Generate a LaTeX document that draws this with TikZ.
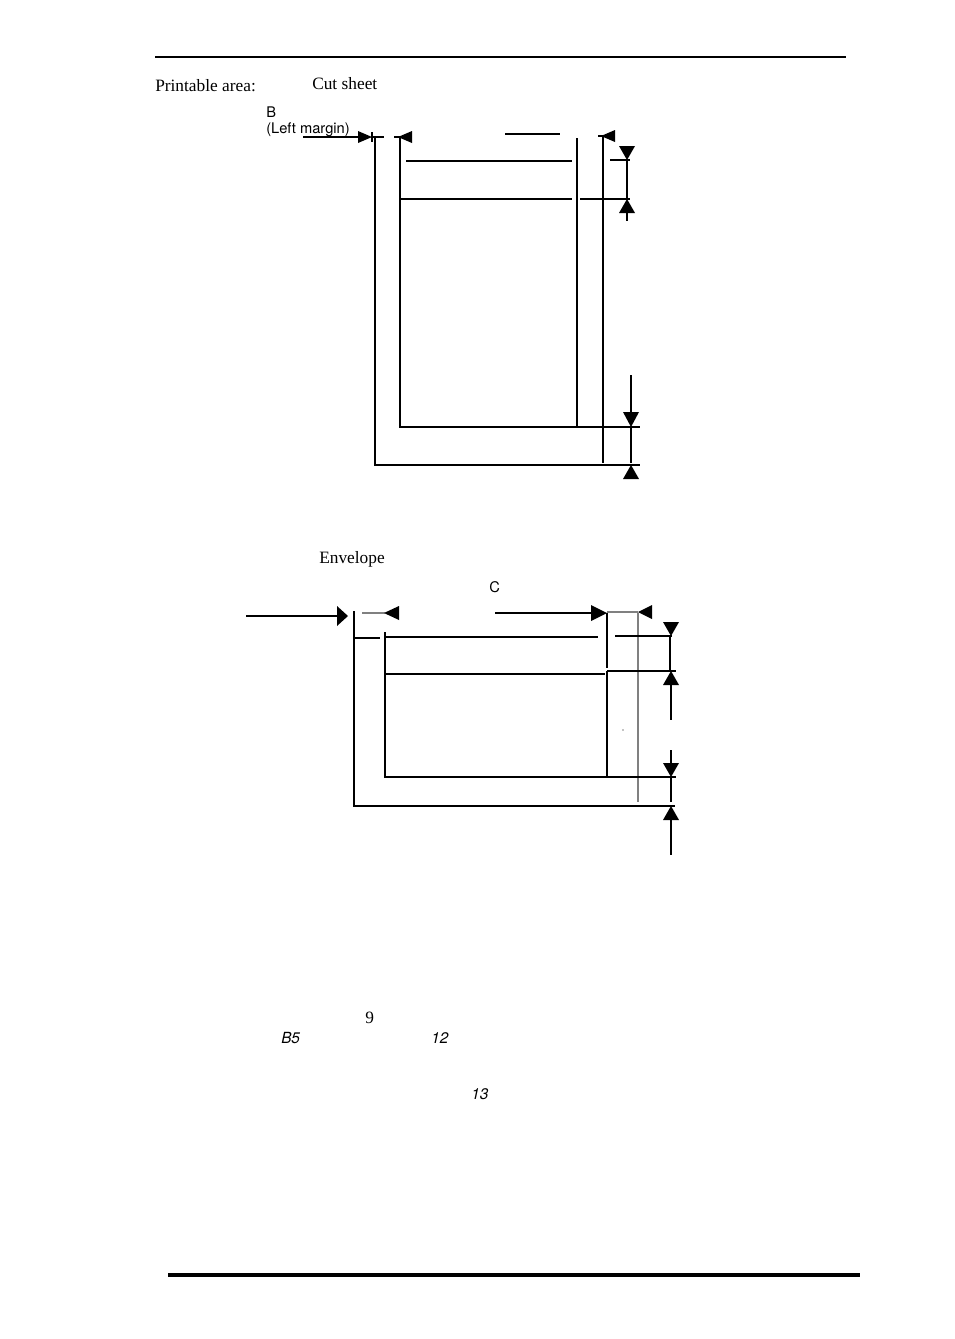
\documentclass[tikz,border=0pt]{standalone}
\usepackage{fontspec}
\setmainfont{Liberation Serif}
\newfontfamily\hel{TeX Gyre Heros}
\begin{document}
\begin{tikzpicture}[x=0.75pt,y=-0.75pt,
  thin/.style={line width=0.8pt},
  thk/.style={line width=1.6pt},
  gr/.style={line width=0.8pt,gray},
  lbl/.style={inner sep=0pt,anchor=west,font=\fontsize{13}{14}\selectfont},
  slbl/.style={inner sep=0pt,anchor=west,font=\hel\fontsize{11}{12}\selectfont},
  ilbl/.style={inner sep=0pt,anchor=west,font=\hel\itshape\fontsize{11.5}{12}\selectfont}]
\useasboundingbox (0,0) rectangle (954,1339);
% rules
\draw[line width=1.5pt] (155,57) -- (846,57);
\draw[line width=2.3pt] (168,1275) -- (860,1275);
% texts
\node[lbl] (pa) at (155,86) {Printable area:};
\node[lbl] (cs) at (312,84) {Cut sheet};
\node[slbl] (b) at (266,112) {B};
\node[slbl] (lm) at (266,130) {(Left margin)};
\node[lbl] (env) at (319,559) {Envelope};
\node[slbl,font=\hel\fontsize{11}{12}\selectfont] (c) at (489,587) {C};
\node[lbl] (n9) at (365,1018) {9};
\node[ilbl] (b5) at (281,1038) {B5};
\node[ilbl] (n12) at (431,1038) {12};
\node[ilbl] (n13) at (471,1094) {13};
% ---- cut sheet ----
\draw[thin] (303,137) -- (360,137);
\fill (372,137) -- (358,131) -- (358,143) -- cycle;
\draw[thin] (372,137) -- (384,137) (372,132) -- (372,142);
\draw[thin] (375,137) -- (375,465) -- (620,465);
\fill (398,137) -- (412,131) -- (412,143) -- cycle;
\draw[thin] (394,137) -- (402,137);
\draw[thk] (400,137) -- (400,427) -- (575,427);
\draw[thin] (406,161) -- (572,161);
\draw[thk] (400,199) -- (572,199);
\draw[thin] (505,134) -- (560,134);
\draw[thk] (577,138) -- (577,427);
\draw[thin] (603,137) -- (603,463) (598,136) -- (605,136);
\fill (601,136) -- (615,130) -- (615,142) -- cycle;
\draw[thin] (610,160) -- (630,160) (627,160) -- (627,199) (580,199) -- (630,199) (627,213) -- (627,221);
\fill (627,160) -- (619,146) -- (635,146) -- cycle;
\fill (627,199) -- (619,213) -- (635,213) -- cycle;
\draw[thin] (631,375) -- (631,412) (575,427) -- (640,427) (631,427) -- (631,463) (575,465) -- (640,465);
\fill (631,427) -- (623,412) -- (639,412) -- cycle;
\fill (631,465) -- (623,479) -- (639,479) -- cycle;
% ---- envelope ----
\draw[thin] (246,616) -- (338,616);
\fill (348,616) -- (337,606) -- (337,626) -- cycle;
\draw[thin] (354,611) -- (354,806) -- (675,806);
\draw[gr] (362,613) -- (385,613);
\fill (384,613) -- (399,606) -- (399,620) -- cycle;
\draw[thin] (354,638) -- (380,638) (385,637) -- (598,637);
\draw[thk] (385,632) -- (385,777) -- (607,777) -- (607,671);
\draw[thk] (385,674) -- (605,674);
\draw[thin] (607,613) -- (607,668);
\draw[thin] (495,613) -- (592,613);
\fill (607,613) -- (591,605) -- (591,621) -- cycle;
\draw[gr] (607,612) -- (638,612) (638,613) -- (638,802);
\fill (638,612) -- (652,605) -- (652,619) -- cycle;
\draw[thin] (615,636) -- (672,636) (670,636) -- (670,670) (607,671) -- (676,671) (671,685) -- (671,720) (671,750) -- (671,763) (607,777) -- (676,777) (671,777) -- (671,802) (671,820) -- (671,855);
\fill (671,636) -- (663,622) -- (679,622) -- cycle;
\fill (671,671) -- (663,685) -- (679,685) -- cycle;
\fill (671,777) -- (663,763) -- (679,763) -- cycle;
\fill (671,806) -- (663,820) -- (679,820) -- cycle;
\fill (623,730) circle (0.6);
\end{tikzpicture}
\end{document}
